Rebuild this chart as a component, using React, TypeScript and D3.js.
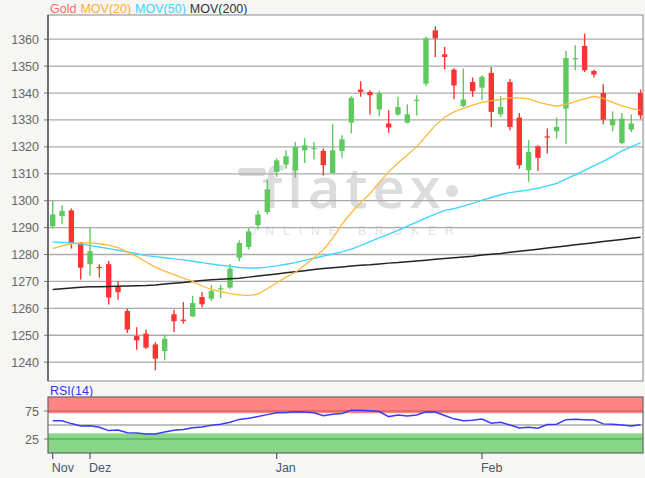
import React from 'react';
import * as d3 from 'd3';

// daily candles, late Nov .. late Feb
const opens = [1290.5, 1294.3, 1296.4, 1284.3, 1276.4, 1275.4, 1276.4, 1267.9, 1259, 1249.7, 1250.6, 1246.6, 1244.1, 1257.8, 1255.8, 1257, 1264.2, 1263.6, 1267.2, 1267.7, 1278.8, 1282.8, 1290.9, 1295.8, 1310.7, 1313.4, 1311.3, 1318.7, 1319.4, 1318.5, 1310.3, 1318.5, 1329, 1341.3, 1340.4, 1333.9, 1328.7, 1332, 1329, 1337.1, 1343.5, 1363.3, 1354.4, 1348.7, 1335.2, 1344.1, 1342, 1347.5, 1332.1, 1344.1, 1330.9, 1311.3, 1320.2, 1323.9, 1325.8, 1334.2, 1352.5, 1357.5, 1348.2, 1340, 1328, 1321.4, 1326.4, 1340];
const highs = [1299.9, 1298.3, 1297.1, 1284.6, 1290.2, 1276.4, 1277.6, 1270.2, 1259.9, 1253, 1252.1, 1247.4, 1250.2, 1259.5, 1262.3, 1264.6, 1266.1, 1268.6, 1268.8, 1276.6, 1285.3, 1289.7, 1296.4, 1307.8, 1315.7, 1318.7, 1321.8, 1323.3, 1321.8, 1319.4, 1328.4, 1324.3, 1338.8, 1344.4, 1341, 1340.8, 1333.6, 1338.6, 1335.8, 1339.2, 1360.9, 1364.8, 1357.1, 1349.2, 1349.1, 1345.8, 1346.6, 1349.7, 1338.8, 1345.2, 1332.6, 1322.5, 1320.6, 1326.8, 1330.9, 1355.7, 1357.8, 1362.1, 1348.7, 1343.3, 1333.2, 1332.6, 1332, 1341.3];
const lows = [1289.7, 1291.2, 1282.2, 1270.7, 1272, 1271.4, 1261.4, 1263.2, 1250.8, 1244.6, 1244.9, 1237, 1240.7, 1251.2, 1254.3, 1256.8, 1260.3, 1262.7, 1263.8, 1267.3, 1277.5, 1281.9, 1289.3, 1294.9, 1308.8, 1311.9, 1308.6, 1314, 1315.3, 1309.4, 1310.1, 1316, 1325, 1338.6, 1332, 1331.4, 1325.2, 1331.6, 1328.7, 1331.7, 1342.6, 1353.4, 1348.8, 1337.7, 1334.8, 1338.6, 1337.3, 1327.4, 1331.1, 1326.2, 1311.9, 1307, 1311, 1317.5, 1323.1, 1321, 1348.5, 1347.8, 1345.8, 1328.4, 1325.8, 1321, 1325.5, 1330.3];
const closes = [1294.9, 1296.2, 1284.1, 1275.1, 1281.2, 1275, 1264, 1266, 1252.1, 1248.1, 1245.4, 1241.3, 1248.7, 1255.2, 1255.3, 1262, 1261.5, 1266.4, 1267.5, 1274.8, 1284.3, 1288.6, 1294.9, 1304.2, 1315, 1316.5, 1320, 1320.6, 1319.6, 1313.2, 1318.7, 1322.8, 1338.2, 1340.4, 1339.2, 1340, 1327.2, 1334.8, 1332.1, 1337.5, 1360.3, 1360.3, 1353.4, 1342.8, 1337.6, 1340.7, 1346, 1333, 1334.8, 1327.4, 1313.2, 1318.1, 1315.9, 1323.5, 1327.4, 1353, 1353, 1348.5, 1346.9, 1330.1, 1330.3, 1330.5, 1328.7, 1331.7];

const ma20 = [1282.2, 1283.2, 1284, 1284.3, 1284.3, 1284, 1283.5, 1282.6, 1281, 1279.3, 1277.2, 1275.3, 1273.8, 1272.5, 1271.2, 1270, 1268.3, 1267, 1266.2, 1265.5, 1265, 1264.7, 1265.3, 1267.3, 1269.5, 1271.6, 1273.4, 1276, 1278.8, 1281.8, 1286, 1291.3, 1295.5, 1299.3, 1302.6, 1306.8, 1310.7, 1314, 1317, 1320, 1324, 1328, 1331, 1333, 1334.3, 1335.5, 1336.5, 1337.2, 1337.6, 1338.2, 1338.2, 1337.8, 1336.6, 1335.8, 1335.1, 1335.8, 1336.8, 1337.8, 1338.8, 1338, 1336.5, 1335.2, 1334.3, 1333.6];
const ma50 = [1284.6, 1284.5, 1284.3, 1284, 1283.3, 1282.8, 1282.2, 1281.6, 1281, 1280.3, 1279.6, 1279.2, 1278.8, 1278.4, 1278, 1277.5, 1277, 1276.5, 1276, 1275.6, 1275.2, 1275, 1275, 1275.3, 1275.8, 1276.4, 1277, 1277.8, 1278.6, 1279.4, 1280.2, 1281, 1282, 1283.3, 1284.8, 1286.2, 1287.6, 1289, 1290.5, 1292, 1293.6, 1295, 1296.4, 1297, 1298, 1299, 1300.2, 1301.2, 1302.2, 1303, 1303.5, 1304, 1304.6, 1305.5, 1306.4, 1308, 1309.6, 1311.3, 1313, 1314.6, 1316.5, 1318.5, 1320, 1321.6];
const ma200 = [1267, 1267.3, 1267.6, 1267.8, 1268, 1268, 1268.1, 1268.2, 1268.3, 1268.4, 1268.5, 1268.7, 1269, 1269.3, 1269.6, 1270, 1270.3, 1270.6, 1270.8, 1271, 1271.2, 1271.6, 1272, 1272.4, 1272.8, 1273.2, 1273.6, 1274, 1274.4, 1274.8, 1275.1, 1275.4, 1275.7, 1276, 1276.2, 1276.5, 1276.8, 1277, 1277.3, 1277.6, 1277.9, 1278.2, 1278.5, 1278.8, 1279.1, 1279.4, 1279.8, 1280.1, 1280.4, 1280.8, 1281.2, 1281.6, 1282, 1282.4, 1282.8, 1283.2, 1283.6, 1284, 1284.4, 1284.8, 1285.2, 1285.6, 1286, 1286.4];
const rsi14 = [57.7, 57.7, 52.5, 48.2, 48.5, 46, 40, 41, 36.2, 35.7, 34, 33.9, 37.4, 40.6, 41.8, 45, 46.5, 49.5, 51.5, 55, 60, 62, 65, 68.5, 72, 72.5, 73.5, 73.2, 72, 66.5, 69, 70.6, 76.5, 76.2, 75.3, 74, 65, 67.8, 66.2, 67.8, 73.5, 73.3, 67, 61, 57.5, 58.5, 60.5, 53.2, 54.8, 50, 44.5, 45.8, 44.2, 51, 51.5, 59.5, 60.2, 59.5, 58.9, 52, 51.2, 50, 48.3, 50.5];

const priceTicks = [1240, 1250, 1260, 1270, 1280, 1290, 1300, 1310, 1320, 1330, 1340, 1350, 1360];
const rsiTicks = [75, 25];
const monthIdx = [0, 4, 24, 46];
const monthLabels = ['Nov', 'Dez', 'Jan', 'Feb'];

const W = 645;
const H = 478;
const L = 48;
const R = 643;
const TOP = 15;
const BOT = 381;
const RT = 397;
const RB = 453;
const FONT = '"Liberation Sans", Arial, sans-serif';

const UP = '#5ec95e';
const DOWN = '#ff3333';

export default function App() {
  const x = d3.scaleLinear().domain([0, opens.length - 1]).range([52.7, 640.6]);
  const y = d3.scaleLinear().domain([1233, 1369]).range([BOT, TOP]);
  const yr = d3.scaleLinear().domain([0, 100]).range([RB, RT]);

  const line = d3
    .line<number>()
    .x((_, i) => x(i))
    .y((d) => y(d));
  const rsiLine = d3
    .line<number>()
    .x((_, i) => x(i))
    .y((d) => yr(d));

  const bw = 5.4;

  return (
    <svg
      width={W}
      height={H}
      style={{ position: 'fixed', left: 0, top: 0, background: '#f6f6f4' }}
      fontFamily={FONT}
    >
      <defs>
        <clipPath id="plotClip">
          <rect x={L} y={TOP} width={R - L} height={BOT - TOP} />
        </clipPath>
        <clipPath id="rsiClip">
          <rect x={L} y={RT} width={R - L} height={RB - RT} />
        </clipPath>
      </defs>

      {/* legend */}
      <text x={50} y={13} fontSize={12.5}>
        <tspan fill="#ff6b6b">Gold</tspan>
        <tspan fill="#ffad33" dx={4}>MOV(20)</tspan>
        <tspan fill="#3fd0ff" dx={4}>MOV(50)</tspan>
        <tspan fill="#333" dx={4}>MOV(200)</tspan>
      </text>

      {/* main plot */}
      <rect x={L} y={TOP} width={R - L} height={BOT - TOP} fill="#fff" />

      {/* watermark */}
      <g fill="#dcdcdc">
        <rect x={238} y={168} width={28} height={8} rx={4} />
        <text x={262} y={208} fontSize={56} fontFamily='"Open Sans", sans-serif' fontWeight={600} letterSpacing={5}>
          flatex
        </text>
        <circle cx={452} cy={191} r={6} />
        <text x={247} y={235} fontSize={12} fill="#e2e2e2" letterSpacing={9}>
          ONLINE BROKER
        </text>
      </g>

      {priceTicks.map((t) => (
        <g key={t}>
          <line x1={L} x2={R} y1={y(t)} y2={y(t)} stroke="#ababab" strokeWidth={1.3} />
          <line x1={44} x2={L} y1={y(t)} y2={y(t)} stroke="#777" strokeWidth={1} />
          <text x={39} y={y(t) + 4.5} fontSize={12.5} fill="#666" textAnchor="end">
            {t}
          </text>
        </g>
      ))}

      <g clipPath="url(#plotClip)">
        {opens.map((o, i) => {
          const c = closes[i];
          const col = c >= o ? UP : DOWN;
          const top = y(Math.max(o, c));
          const h = Math.max(1.2, Math.abs(y(o) - y(c)));
          return (
            <g key={i}>
              <line x1={x(i)} x2={x(i)} y1={y(highs[i])} y2={y(lows[i])} stroke={col} strokeWidth={1.4} />
              <rect x={x(i) - bw / 2} y={top} width={bw} height={h} fill={col} />
            </g>
          );
        })}
        <path d={line(ma200) || ''} fill="none" stroke="#222" strokeWidth={1.5} />
        <path d={line(ma50) || ''} fill="none" stroke="#44d4ff" strokeWidth={1.4} />
        <path d={line(ma20) || ''} fill="none" stroke="#ffb83d" strokeWidth={1.3} />
      </g>

      <rect x={L} y={TOP} width={R - L} height={BOT - TOP} fill="none" stroke="#888" strokeWidth={1} />
      <line x1={L} x2={L} y1={TOP} y2={BOT} stroke="#555" strokeWidth={1.5} />

      {/* RSI panel */}
      <text x={50} y={395} fontSize={12.5} fill="#3333ff">
        RSI(14)
      </text>
      <rect x={L} y={RT} width={R - L} height={RB - RT} fill="#fff" />
      <rect x={L} y={yr(100)} width={R - L} height={yr(71) - yr(100)} fill="#ff8585" />
      <rect x={L} y={yr(35)} width={R - L} height={yr(0) - yr(35)} fill="#88d788" />
      <line x1={L} x2={R} y1={yr(75)} y2={yr(75)} stroke="#d86464" strokeWidth={1.5} />
      <line x1={L} x2={R} y1={yr(25)} y2={yr(25)} stroke="#5cb45c" strokeWidth={1.5} />
      <line x1={L} x2={R} y1={yr(50)} y2={yr(50)} stroke="#aaa" strokeWidth={1.3} />
      <g clipPath="url(#rsiClip)">
        <path d={rsiLine(rsi14) || ''} fill="none" stroke="#3a3aff" strokeWidth={1.5} />
      </g>
      <rect x={L} y={RT} width={R - L} height={RB - RT} fill="none" stroke="#666" strokeWidth={1.2} />
      {rsiTicks.map((t) => (
        <g key={t}>
          <line x1={44} x2={L} y1={yr(t)} y2={yr(t)} stroke="#777" />
          <text x={39} y={yr(t) + 4.5} fontSize={12.5} fill="#666" textAnchor="end">
            {t}
          </text>
        </g>
      ))}

      {/* month axis */}
      {monthIdx.map((mi, k) => (
        <g key={mi}>
          <line x1={x(mi)} x2={x(mi)} y1={RB} y2={RB + 6} stroke="#556" strokeWidth={1.2} />
          <text x={x(mi) - 1} y={472} fontSize={12.5} fill="#4a5866">
            {monthLabels[k]}
          </text>
        </g>
      ))}
    </svg>
  );
}
